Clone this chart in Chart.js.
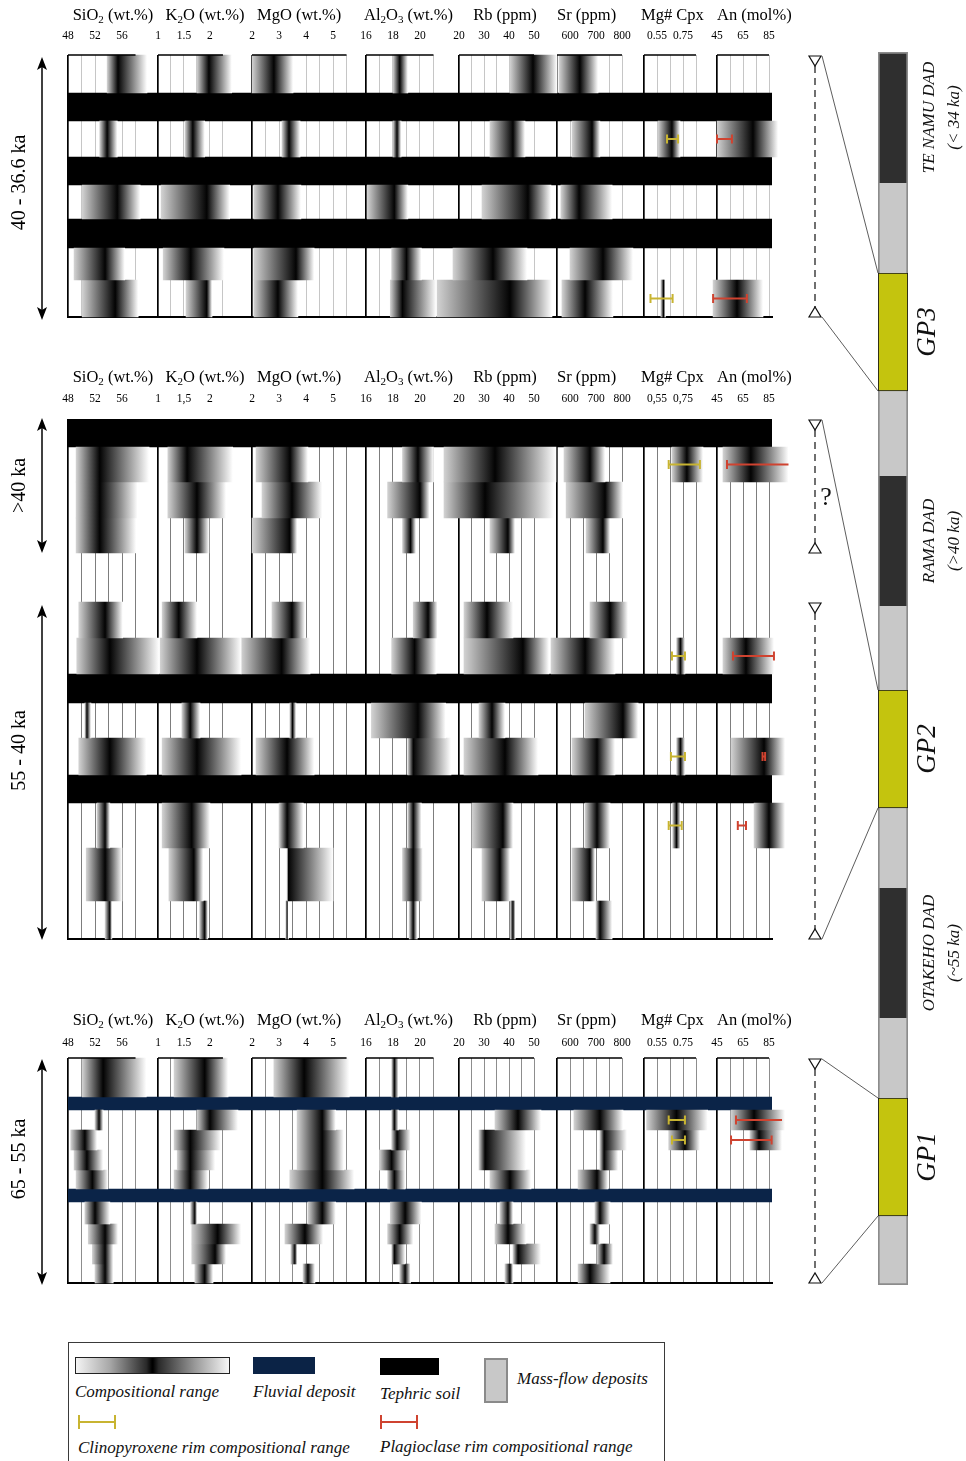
<!DOCTYPE html>
<html>
<head>
<meta charset="utf-8">
<title>Geochemical stratigraphy of the GP1–GP3 sequences</title>
<script src="https://cdn.jsdelivr.net/npm/chart.js@4.4.1/dist/chart.umd.min.js"></script>
<style>
  html, body { margin: 0; padding: 0; background: #fff; }
  #page { position: relative; width: 966px; height: 1461px; overflow: hidden; background: #fff; }
  #page canvas { position: absolute; }
  #legend { position: absolute; left: 68px; top: 1342px; width: 597px; height: 140px; border: 1.5px solid #3a3a3a;
            box-sizing: border-box; font: italic 17px "Liberation Serif", "Times New Roman", serif; color: #111; }
  #legend .sw { position: absolute; box-sizing: border-box; }
  #legend .grad { left: 6px; top: 14px; width: 155px; height: 17px; border: 1px solid #222;
                  background: linear-gradient(90deg, #f4f4f4 0%, #a8a8a8 22%, #2a2a2a 46%, #000 49.7%, #000 50.3%, #2a2a2a 54%, #9a9a9a 78%, #f6f6f6 100%); }
  #legend .navy { left: 184px; top: 14px; width: 62px; height: 17px; background: #0b2346; }
  #legend .black { left: 311px; top: 15px; width: 59px; height: 17px; background: #000; }
  #legend .mf { left: 415px; top: 15px; width: 24px; height: 45px; background: #c8c8c8; border: 2.5px solid #8a8a8a; }
  #legend .txt { position: absolute; white-space: nowrap; line-height: 22px; }
  #legend .eb { position: absolute; width: 38px; height: 14px; box-sizing: border-box;
                border-left: 2px solid var(--c); border-right: 2px solid var(--c); }
  #legend .eb i { position: absolute; left: 0; right: 0; top: 6px; height: 2px; background: var(--c); }
</style>
</head>
<body>
<div id="page">
  <canvas id="panel1" width="800" height="330" style="left:0;top:0"></canvas>
  <canvas id="panel2" width="800" height="590" style="left:0;top:362px"></canvas>
  <canvas id="panel3" width="800" height="295" style="left:0;top:1003px"></canvas>
  <canvas id="strat" width="176" height="1461" style="left:790px;top:0"></canvas>

  <div id="legend">
    <div class="sw grad"></div>
    <div class="txt" style="left:6px;top:38px">Compositional range</div>
    <div class="sw navy"></div>
    <div class="txt" style="left:184px;top:38px">Fluvial deposit</div>
    <div class="sw black"></div>
    <div class="txt" style="left:311px;top:40px">Tephric soil</div>
    <div class="sw mf"></div>
    <div class="txt" style="left:448px;top:25px">Mass-flow deposits</div>
    <div class="eb" style="left:9px;top:72px;--c:#c8b431"><i></i></div>
    <div class="txt" style="left:9px;top:94px">Clinopyroxene rim compositional range</div>
    <div class="eb" style="left:311px;top:72px;--c:#cf4330"><i></i></div>
    <div class="txt" style="left:311px;top:93px">Plagioclase rim compositional range</div>
  </div>
</div>

<script>
// ---------------------------------------------------------------------------
// Variables (one x axis per column) — tick labels, grid values and ranges
// ---------------------------------------------------------------------------
const columnKeys = ['sio2', 'k2o', 'mgo', 'al2o3', 'rb', 'sr', 'mgcpx', 'an'];
// title pieces: even index = normal text, odd index = subscript
const columnTitles = [['SiO', '2', ' (wt.%)'], ['K', '2', 'O (wt.%)'], ['MgO (wt.%)'], ['Al', '2', 'O', '3', ' (wt.%)'],
                      ['Rb (ppm)'], ['Sr (ppm)'], ['Mg# Cpx'], ['An (mol%)']];
const columnLabelTicks = [[48, 52, 56], [1, 1.5, 2], [2, 3, 4, 5], [16, 18, 20], [20, 30, 40, 50], [600, 700, 800], [0.55, 0.75], [45, 65, 85]];
const columnGridTicks = [[48, 50, 52, 54, 56, 58], [1, 1.25, 1.5, 1.75, 2, 2.25], [2, 2.5, 3, 3.5, 4, 4.5, 5, 5.5], [16, 17, 18, 19, 20, 21],
                         [20, 25, 30, 35, 40, 45, 50], [550, 600, 650, 700, 750, 800], [0.45, 0.55, 0.65, 0.75, 0.85], [45, 55, 65, 75, 85]];
const columnRanges = [[48, 61.33], [1, 2.81], [2, 6.22], [16, 22.89], [20, 59.2], [550, 884.6], [0.45, 1.0115], [45, 87.3]];

// ---------------------------------------------------------------------------
// Panel 1 — 40 to 36.6 ka   (each composition entry: [min, mode, max])
// ---------------------------------------------------------------------------
const p1Thickness = [38, 28, 36, 28, 34, 29, 32, 37];
const p1Kinds = ['deposit', 'soil', 'deposit', 'soil', 'deposit', 'soil', 'deposit', 'deposit'];
const p1SiO2  = [[53.8, 55.4, 59.7], null, [52.7, 53.8, 55.3], null, [50.1, 55.3, 58.7], null, [48.9, 53.5, 56.4], [50.1, 55.0, 58.4]];
const p1K2O   = [[1.75, 1.98, 2.42], null, [1.52, 1.67, 1.90], null, [1.06, 1.94, 2.38], null, [1.10, 1.63, 2.27], [1.54, 1.94, 2.04]];
const p1MgO   = [[2.00, 2.81, 3.52], null, [3.11, 3.37, 3.78], null, [2.07, 2.96, 3.81], null, [2.07, 3.63, 4.30], [2.07, 2.96, 3.70]];
const p1Al2O3 = [[18.0, 18.5, 19.1], null, [18.0, 18.3, 18.6], null, [16.1, 18.1, 19.1], null, [17.9, 19.0, 20.1], [17.8, 18.7, 21.2]];
const p1Rb    = [[40.4, 49.6, 59.2], null, [32.4, 41.6, 46.4], null, [29.2, 47.6, 56.8], null, [17.6, 33.6, 47.2], [11.2, 40.4, 57.2]];
const p1Sr    = [[558, 638, 708], null, [608, 685, 715], null, [565, 635, 762], null, [600, 727, 842], [569, 658, 765]];
const p1MgCpx = [null, null, [0.558, 0.665, 0.727], null, null, null, null, [0.58, 0.60, 0.615]];
const p1An    = [null, null, [45, 72.7, 92], null, null, null, null, [42, 60.4, 80.4]];
const p1CpxRim  = [null, null, [0.627, 0.712], null, null, null, null, [0.50, 0.67]];
const p1PlagRim = [null, null, [45, 56.5], null, null, null, null, [42, 68]];
const p1Ages = [{ label: '40 - 36.6 ka', from: 0, to: 8 }];

// ---------------------------------------------------------------------------
// Panel 2 — >40 ka and 55 to 40 ka
// ---------------------------------------------------------------------------
const p2Thickness = [28, 35, 36, 35, 49, 36, 36, 29, 35, 37, 28, 45, 53, 38];
const p2Kinds = ['soil', 'deposit', 'deposit', 'deposit', 'gap', 'deposit', 'deposit', 'soil', 'deposit', 'deposit', 'soil', 'deposit', 'deposit', 'deposit'];
const p2SiO2  = [null, [49.2, 52.7, 60.0], [49.2, 52.7, 58.3], [49.2, 52.7, 58.1], null, [49.6, 53.5, 56.1], [49.3, 54.2, 61.5], null,
                 [50.5, 50.8, 51.4], [49.6, 54.2, 59.6], null, [52.3, 53.5, 54.2], [50.7, 53.5, 56.0], [53.5, 54.2, 54.5]];
const p2K2O   = [null, [1.19, 1.56, 2.44], [1.19, 1.75, 2.31], [1.52, 1.75, 1.98], null, [1.08, 1.40, 1.75], [1.04, 1.75, 2.60], null,
                 [1.46, 1.62, 1.81], [1.08, 1.75, 2.60], null, [1.08, 1.65, 2.00], [1.21, 1.69, 1.87], [1.80, 1.90, 1.96]];
const p2MgO   = [null, [2.15, 3.41, 4.07], [2.37, 3.48, 4.60], [2.00, 3.40, 3.67], null, [2.74, 3.48, 3.96], [1.60, 3.10, 4.15], null,
                 [3.40, 3.50, 3.63], [2.15, 3.30, 4.30], null, [3.00, 3.30, 3.90], [3.30, 3.35, 5.00], [3.25, 3.30, 3.35]];
const p2Al2O3 = [null, [18.7, 19.85, 21.0], [17.6, 20.0, 20.7], [18.7, 19.3, 19.7], null, [19.5, 20.6, 21.3], [17.9, 19.6, 21.2], null,
                 [16.4, 19.85, 21.9], [19.1, 19.5, 22.3], null, [19.1, 19.5, 20.1], [18.7, 19.5, 20.2], [19.2, 19.5, 19.8]];
const p2Rb    = [null, [14.0, 34.4, 58.8], [14.0, 30.4, 58.0], [32.4, 39.6, 42.4], null, [22.0, 31.2, 41.6], [22.0, 45.6, 56.0], null,
                 [28.0, 33.2, 38.4], [22.0, 38.4, 51.6], null, [25.2, 37.6, 41.6], [29.2, 36.4, 40.4], [40.5, 41.6, 42.5]];
const p2Sr    = [null, [577, 677, 735], [585, 735, 804], [662, 727, 754], null, [677, 754, 823], [527, 658, 773], null,
                 [658, 804, 862], [608, 704, 773], null, [658, 704, 754], [608, 677, 696], [700, 715, 762]];
const p2MgCpx = [null, [0.665, 0.78, 0.904], null, null, null, null, [0.70, 0.73, 0.765], null, null, [0.70, 0.73, 0.765], null, [0.67, 0.70, 0.73], null, null];
const p2An    = [null, [49.6, 71.0, 100], null, null, null, null, [49.6, 67.3, 88.8], null, null, [55.8, 81.2, 97.3], null, [73.5, 85.0, 97.3], null, null];
const p2CpxRim  = [null, [0.64, 0.88], null, null, null, null, [0.665, 0.765], null, null, [0.657, 0.765], null, [0.64, 0.74], null, null];
const p2PlagRim = [null, [52.7, 100], null, null, null, null, [57.3, 88.8], null, null, [80, 82], null, [61, 67.3], null, null];
const p2Ages = [{ label: '>40 ka', from: 0, to: 4 }, { label: '55 - 40 ka', from: 5, to: 14 }];

// ---------------------------------------------------------------------------
// Panel 3 — 65 to 55 ka
// ---------------------------------------------------------------------------
const p3Thickness = [39, 13, 20, 20, 20, 19, 13, 22, 20, 20, 19];
const p3Kinds = ['deposit', 'fluvial', 'deposit', 'deposit', 'deposit', 'deposit', 'fluvial', 'deposit', 'deposit', 'deposit', 'deposit'];
const p3SiO2  = [[50.1, 53.2, 59.6], null, [52.0, 52.6, 53.2], [48.4, 50.5, 52.3], [48.9, 50.8, 53.2], [49.2, 51.6, 53.9], null,
                 [50.5, 52.0, 54.2], [51.0, 53.5, 55.4], [51.6, 53.5, 54.7], [52.0, 53.5, 54.7]];
const p3K2O   = [[1.31, 1.90, 2.35], null, [1.75, 2.00, 2.54], [1.31, 1.62, 2.21], [1.37, 1.62, 2.10], [1.31, 1.62, 1.96], null,
                 [1.63, 1.71, 1.75], [1.65, 2.15, 2.60], [1.65, 2.10, 2.31], [1.71, 1.90, 2.06]];
const p3MgO   = [[2.81, 3.93, 5.60], null, [3.67, 4.60, 5.10], [3.67, 4.60, 5.40], [3.67, 4.60, 5.40], [3.40, 4.60, 5.78], null,
                 [4.07, 4.60, 5.10], [3.22, 3.96, 4.63], [3.44, 3.59, 3.67], [3.89, 4.07, 4.33]];
const p3Al2O3 = [[17.9, 18.1, 18.4], null, [17.9, 18.1, 18.4], [17.9, 18.3, 19.3], [17.0, 17.9, 18.9], [17.6, 18.1, 18.9], null,
                 [17.8, 18.9, 20.1], [17.6, 18.5, 19.5], [17.9, 18.1, 18.9], [18.5, 18.9, 19.3]];
const p3Rb    = [null, null, [34.4, 43.6, 52.8], [28.0, 30.4, 46.8], [28.0, 30.4, 46.8], [32.4, 40.4, 48.8], null,
                 [36.4, 39.6, 41.6], [34.4, 39.6, 46.8], [41.6, 43.6, 52.8], [38.4, 40.4, 41.6]];
const p3Sr    = [null, null, [615, 715, 804], [715, 731, 819], [715, 731, 785], [631, 704, 746], null,
                 [696, 715, 754], [677, 696, 715], [704, 731, 765], [631, 677, 754]];
const p3MgCpx = [null, null, [0.47, 0.70, 0.94], [0.64, 0.765, 0.88], null, null, null, null, null, null, null];
const p3An    = [null, null, [55.8, 73.5, 97.3], [70.4, 77.3, 95.0], null, null, null, null, null, null, null];
const p3CpxRim  = [null, null, [0.64, 0.765], [0.665, 0.765], null, null, null, null, null, null, null];
const p3PlagRim = [null, null, [59.6, 95.0], [55.8, 87.0], null, null, null, null, null, null, null];
const p3Ages = [{ label: '65 - 55 ka', from: 0, to: 11 }];

// ---------------------------------------------------------------------------
// Composite stratigraphic log (top to bottom)
// ---------------------------------------------------------------------------
const stratThickness = [131, 90, 118, 85, 130, 84, 118, 80, 130, 80, 118, 69];
const stratKinds = ['dad', 'mf', 'gp', 'mf', 'dad', 'mf', 'gp', 'mf', 'dad', 'mf', 'gp', 'mf'];
const stratNames = ['TE NAMU DAD', '', 'GP3', '', 'RAMA DAD', '', 'GP2', '', 'OTAKEHO DAD', '', 'GP1', ''];
const stratAges  = ['(< 34 ka)', '', '', '', '(>40 ka)', '', '', '', '(~55 ka)', '', '', ''];
// [panel, age group, which end, log unit it correlates with]
const correlations = [[0, 0, 'top', 2], [0, 0, 'bottom', 2], [1, 0, 'top', 6], [1, 1, 'bottom', 6], [2, 0, 'top', 10], [2, 0, 'bottom', 10]];
const uncertainGroups = [[1, 0]];

// ---------------------------------------------------------------------------
// Styling and layout
// ---------------------------------------------------------------------------
const SERIF = '"Liberation Serif", "Times New Roman", Times, serif';
const COLUMN_WIDTH = [90, 94, 114, 93, 98, 87, 73, 55];
const TITLE_ALIGN = [{ mode: 'center', dx: 0 }, { mode: 'center', dx: 0 }, { mode: 'start', dx: 5 }, { mode: 'center', dx: -4 },
                     { mode: 'center', dx: -3 }, { mode: 'start', dx: 0 }, { mode: 'start', dx: -3 }, { mode: 'start', dx: 0 }];
const BAND_COLOR = { soil: '#000000', fluvial: '#0b2448' };
const CPX_COLOR = '#c8b431';
const PLAG_COLOR = '#cf4330';
const STRAT_COLOR = { dad: '#2f2f2f', mf: '#c8c8c8', gp: '#c4c40e' };
const PANEL_STYLE = [
  { canvasTop: 0,    padTop: 17, padBottom: 13, tickPad: 12.1, titleY: 16, gridColor: '#b8b8b8', topRule: true,  comma: false,
    arrowInset: [[2, 3]], labelShift: [-6] },
  { canvasTop: 362,  padTop: 17, padBottom: 13, tickPad: 13.1, titleY: 16, gridColor: '#5c5c5c', topRule: false, comma: true,
    arrowInset: [[-1, 0], [3, 1]], labelShift: [0, -22] },
  { canvasTop: 1003, padTop: 25, padBottom: 15, tickPad: 8.1,  titleY: 18, gridColor: '#707070', topRule: true,  comma: false,
    arrowInset: [[1, 2]], labelShift: [-13] }
];

const panelData = [
  { thickness: p1Thickness, kinds: p1Kinds, values: [p1SiO2, p1K2O, p1MgO, p1Al2O3, p1Rb, p1Sr, p1MgCpx, p1An],
    cpxRim: p1CpxRim, plagRim: p1PlagRim, ages: p1Ages },
  { thickness: p2Thickness, kinds: p2Kinds, values: [p2SiO2, p2K2O, p2MgO, p2Al2O3, p2Rb, p2Sr, p2MgCpx, p2An],
    cpxRim: p2CpxRim, plagRim: p2PlagRim, ages: p2Ages },
  { thickness: p3Thickness, kinds: p3Kinds, values: [p3SiO2, p3K2O, p3MgO, p3Al2O3, p3Rb, p3Sr, p3MgCpx, p3An],
    cpxRim: p3CpxRim, plagRim: p3PlagRim, ages: p3Ages }
];

// ---------------------------------------------------------------------------
// Helpers
// ---------------------------------------------------------------------------
const cumulative = (arr) => { const out = []; let acc = 0; arr.forEach(t => { out.push(acc); acc += t; }); return { tops: out, total: acc }; };

// bar thickness (px) of a layer, measured on the chart's own y scale
const layerThickness = (h) => (c) => {
  const y = c.chart.scales.y;
  return Math.max(1, Math.abs(y.getPixelForValue(h) - y.getPixelForValue(0)));
};

// light at the minimum, black at the mode, white at the maximum
function rangeGradient(c) {
  const raw = c.raw;
  if (!raw || !Array.isArray(raw.x)) return '#808080';
  const sc = c.chart.scales[c.dataset.xAxisID];
  if (!sc) return '#808080';
  const x0 = sc.getPixelForValue(raw.x[0]);
  const x1 = sc.getPixelForValue(raw.x[1]);
  const xm = sc.getPixelForValue(raw.m);
  if (!isFinite(x0) || !isFinite(x1) || x1 - x0 < 0.5) return '#1a1a1a';
  const f = Math.min(1, Math.max(0, (xm - x0) / (x1 - x0)));
  const g = c.chart.ctx.createLinearGradient(x0, 0, x1, 0);
  g.addColorStop(0, '#d2d2d2');
  g.addColorStop(f, '#030303');
  g.addColorStop(1, '#ffffff');
  return g;
}

function rimLine(axisId, range, y, color) {
  return {
    type: 'line', xAxisID: axisId, yAxisID: 'y', order: 0, clip: false,
    data: [{ x: range[0], y }, { x: range[1], y }],
    borderColor: color, borderWidth: 2, fill: false, tension: 0,
    pointStyle: 'line', pointRotation: 90, pointRadius: 4.5, pointHoverRadius: 4.5,
    pointBorderColor: color, pointBackgroundColor: color, pointBorderWidth: 2
  };
}

function panelDatasets(p, st) {
  const { tops, total } = cumulative(p.thickness);
  const ds = [];
  p.kinds.forEach((kind, i) => {
    const h = p.thickness[i];
    const yc = tops[i] + h / 2;
    if (kind === 'soil' || kind === 'fluvial') {
      ds.push({ type: 'bar', indexAxis: 'y', xAxisID: 'band', yAxisID: 'y', order: 3, grouped: false,
                data: [{ x: [0, 1], y: yc }], backgroundColor: BAND_COLOR[kind], borderWidth: 0,
                barThickness: layerThickness(h) });
      return;
    }
    columnKeys.forEach((key, j) => {
      const v = p.values[j][i];
      if (!v) return;
      ds.push({ type: 'bar', indexAxis: 'y', xAxisID: key, yAxisID: 'y', order: 2, grouped: false, clip: false,
                data: [{ x: [v[0], v[2]], y: yc, m: v[1] }], backgroundColor: rangeGradient, borderWidth: 0,
                barThickness: layerThickness(h) });
    });
    if (p.cpxRim[i]) ds.push(rimLine('mgcpx', p.cpxRim[i], yc, CPX_COLOR));
    if (p.plagRim[i]) ds.push(rimLine('an', p.plagRim[i], yc, PLAG_COLOR));
  });
  if (st.topRule) {
    columnKeys.forEach((key, j) => {
      const g = columnGridTicks[j];
      ds.push({ type: 'line', xAxisID: key, yAxisID: 'y', order: 0, clip: false,
                data: [{ x: g[0], y: 0 }, { x: g[g.length - 1], y: 0 }],
                borderColor: '#000', borderWidth: 1.5, pointRadius: 0, pointHoverRadius: 0, fill: false });
    });
  }
  return { ds, tops, total };
}

function drawRich(ctx, parts, x, y, mode, size) {
  const normal = size + 'px ' + SERIF;
  const sub = Math.round(size * 0.64) + 'px ' + SERIF;
  const widths = parts.map((t, k) => { ctx.font = (k % 2) ? sub : normal; return ctx.measureText(t).width; });
  const total = widths.reduce((a, b) => a + b, 0);
  let cx = mode === 'start' ? x : x - total / 2;
  ctx.textAlign = 'left';
  ctx.textBaseline = 'middle';
  ctx.fillStyle = '#000';
  parts.forEach((t, k) => {
    ctx.font = (k % 2) ? sub : normal;
    ctx.fillText(t, cx, (k % 2) ? y + size * 0.24 : y);
    cx += widths[k];
  });
}

function arrowHead(ctx, x, y, dir) {
  // dir = -1: pointing up, +1: pointing down; (x, y) is the tip
  ctx.beginPath();
  ctx.moveTo(x, y);
  ctx.lineTo(x - 5, y - dir * 13);
  ctx.lineTo(x, y - dir * 10);
  ctx.lineTo(x + 5, y - dir * 13);
  ctx.closePath();
  ctx.fill();
}

function groupBounds(p, tops, g) {
  return [tops[g.from], tops[g.to - 1] + p.thickness[g.to - 1]];
}

function panelDecor(p, st, geom) {
  return {
    id: 'panelDecor',
    afterDraw(chart) {
      const ctx = chart.ctx;
      ctx.save();
      // column headings
      columnKeys.forEach((key, j) => {
        const ax = chart.scales[key];
        const a = TITLE_ALIGN[j];
        const x = a.mode === 'start' ? ax.left + a.dx : (ax.left + ax.right) / 2 + a.dx;
        drawRich(ctx, columnTitles[j], x, st.titleY, a.mode, 16.5);
      });
      // age brackets on the left
      const ys = chart.scales.y;
      ctx.strokeStyle = '#000';
      ctx.fillStyle = '#000';
      ctx.lineWidth = 1.5;
      p.ages.forEach((g, k) => {
        const [v0, v1] = groupBounds(p, geom.tops, g);
        const top = ys.getPixelForValue(v0) + st.arrowInset[k][0];
        const bot = ys.getPixelForValue(v1) + st.arrowInset[k][1];
        const x = 42;
        ctx.beginPath();
        ctx.moveTo(x, top + 9);
        ctx.lineTo(x, bot - 9);
        ctx.stroke();
        arrowHead(ctx, x, top, -1);
        arrowHead(ctx, x, bot, 1);
        ctx.save();
        ctx.translate(20, (top + bot) / 2 + st.labelShift[k]);
        ctx.rotate(-Math.PI / 2);
        ctx.font = '20px ' + SERIF;
        ctx.textAlign = 'center';
        ctx.textBaseline = 'middle';
        ctx.fillText(g.label, 0, 0);
        ctx.restore();
      });
      ctx.restore();
    }
  };
}

const fmt = (v, comma) => { const s = String(v); return comma ? s.replace('.', ',') : s; };

function makePanel(canvasId, p, st) {
  const geom = panelDatasets(p, st);
  const scales = {
    y: { type: 'linear', axis: 'y', display: false, reverse: true, min: 0, max: geom.total, offset: false,
         grid: { offset: false } },
    band: { type: 'linear', axis: 'x', position: 'bottom', min: 0, max: 1, display: true, offset: false,
            ticks: { display: false }, grid: { display: false, drawTicks: false, offset: false },
            border: { display: true, color: '#000', width: 2 } }
  };
  columnKeys.forEach((key, j) => {
    scales[key] = {
      type: 'linear', axis: 'x', position: 'top', stack: 'columns', stackWeight: COLUMN_WIDTH[j],
      weight: columnKeys.length - j,   // keeps SiO2 on the left, An on the right
      min: columnRanges[j][0], max: columnRanges[j][1], bounds: 'data', offset: false,
      afterBuildTicks: (ax) => { ax.ticks = columnGridTicks[j].map(v => ({ value: v })); },
      ticks: { autoSkip: false, maxRotation: 0, minRotation: 0, padding: st.tickPad, color: '#000',
               font: { family: SERIF, size: 11.5 },
               callback: (v) => columnLabelTicks[j].includes(v) ? fmt(v, st.comma) : '' },
      grid: { drawTicks: false, offset: false,
              color: (c) => c.index === 0 ? '#000' : st.gridColor,
              lineWidth: (c) => c.index === 0 ? 1.7 : 0.8 },
      border: { display: false }
    };
  });
  const chart = new Chart(document.getElementById(canvasId), {
    type: 'bar',
    data: { datasets: geom.ds },
    options: {
      responsive: false, animation: false, events: [],
      layout: { padding: { left: 68, right: 28, top: st.padTop, bottom: st.padBottom } },
      plugins: { legend: { display: false }, tooltip: { enabled: false } },
      scales
    },
    plugins: [panelDecor(p, st, geom)]
  });
  return { chart, tops: geom.tops };
}

const panels = panelData.map((p, k) => makePanel('panel' + (k + 1), p, PANEL_STYLE[k]));

// ---------------------------------------------------------------------------
// Composite log with correlation markers
// ---------------------------------------------------------------------------
const strat = cumulative(stratThickness);

const stratDecor = {
  id: 'stratDecor',
  afterDraw(chart) {
    const ctx = chart.ctx;
    const ys = chart.scales.y;
    const area = chart.chartArea;
    const pageLeft = 790;
    ctx.save();
    // unit names
    stratNames.forEach((name, i) => {
      if (!name) return;
      const yc = ys.getPixelForValue(strat.tops[i] + stratThickness[i] / 2);
      const isGp = stratKinds[i] === 'gp';
      ctx.save();
      ctx.fillStyle = '#111';
      ctx.textAlign = 'center';
      ctx.textBaseline = 'middle';
      if (isGp) {
        ctx.translate(area.right + 20, yc);
        ctx.rotate(-Math.PI / 2);
        ctx.font = 'italic 27px ' + SERIF;
        ctx.fillText(name, 0, 0);
      } else {
        ctx.translate(area.right + 22, yc);
        ctx.rotate(-Math.PI / 2);
        ctx.font = 'italic 17px ' + SERIF;
        ctx.fillText(name, 0, 0);
        ctx.fillText(stratAges[i], 0, 25);
      }
      ctx.restore();
    });

    // sampled intervals of each panel, as dashed ranges
    const mx = 815 - pageLeft;
    const ends = [];
    panels.forEach((pn, k) => {
      const p = panelData[k];
      const top = PANEL_STYLE[k].canvasTop;
      ends[k] = p.ages.map(g => {
        const [v0, v1] = groupBounds(p, pn.tops, g);
        return [pn.chart.scales.y.getPixelForValue(v0) + top + 6, pn.chart.scales.y.getPixelForValue(v1) + top - 5];
      });
    });
    ctx.strokeStyle = '#111';
    ctx.lineWidth = 1.2;
    ends.forEach(list => list.forEach(([a, b]) => {
      ctx.setLineDash([7, 5]);
      ctx.beginPath();
      ctx.moveTo(mx, a + 5);
      ctx.lineTo(mx, b - 5);
      ctx.stroke();
      ctx.setLineDash([]);
      ctx.fillStyle = '#fff';
      ctx.beginPath();
      ctx.moveTo(mx - 6, a - 5); ctx.lineTo(mx + 6, a - 5); ctx.lineTo(mx, a + 5); ctx.closePath();
      ctx.fill(); ctx.stroke();
      ctx.beginPath();
      ctx.moveTo(mx - 6, b + 5); ctx.lineTo(mx + 6, b + 5); ctx.lineTo(mx, b - 5); ctx.closePath();
      ctx.fill(); ctx.stroke();
    }));

    // correlation lines to the log
    ctx.strokeStyle = '#333';
    ctx.lineWidth = 0.8;
    correlations.forEach(([k, g, end, unit]) => {
      const [a, b] = ends[k][g];
      const y0 = end === 'top' ? a - 5 : b + 5;
      const v = end === 'top' ? strat.tops[unit] : strat.tops[unit] + stratThickness[unit];
      ctx.beginPath();
      ctx.moveTo(mx + 7, y0);
      ctx.lineTo(area.left, ys.getPixelForValue(v));
      ctx.stroke();
    });

    // uncertain age bracket
    ctx.fillStyle = '#111';
    ctx.font = '26px ' + SERIF;
    ctx.textAlign = 'center';
    ctx.textBaseline = 'middle';
    uncertainGroups.forEach(([k, g]) => {
      const [a, b] = ends[k][g];
      ctx.fillText('?', mx + 11, (a + b) / 2 + 12);
    });
    ctx.restore();
  }
};

new Chart(document.getElementById('strat'), {
  type: 'bar',
  data: {
    labels: ['log'],
    datasets: stratThickness.map((t, i) => {
      const gp = stratKinds[i] === 'gp';
      return {
        data: [t], stack: 'log', barPercentage: 1, categoryPercentage: 1,
        backgroundColor: STRAT_COLOR[stratKinds[i]],
        borderColor: gp ? '#1a1a1a' : '#8c8c8c',
        borderWidth: gp ? 1.2 : { left: 2, right: 2, top: i === 0 ? 2 : 0, bottom: i === stratThickness.length - 1 ? 2 : 0 },
        borderSkipped: false
      };
    })
  },
  options: {
    responsive: false, animation: false, events: [],
    layout: { padding: { left: 88, right: 58, top: 52, bottom: 176 } },
    plugins: { legend: { display: false }, tooltip: { enabled: false } },
    scales: {
      x: { display: false, stacked: true },
      y: { display: false, stacked: true, reverse: true, min: 0, max: strat.total, offset: false }
    }
  },
  plugins: [stratDecor]
});
</script>
</body>
</html>
